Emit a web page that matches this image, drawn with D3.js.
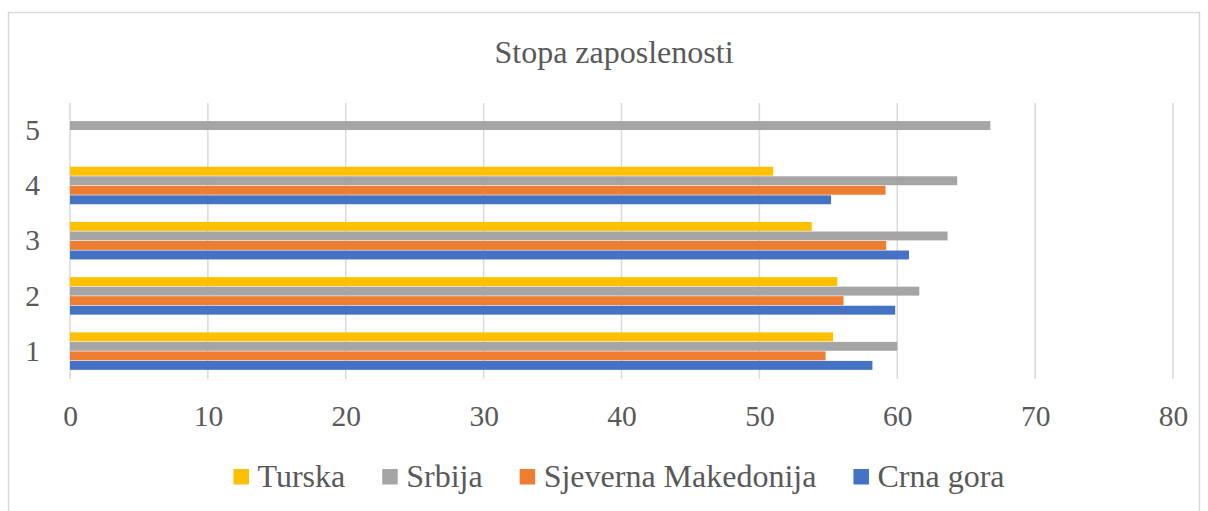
<!DOCTYPE html>
<html>
<head>
<meta charset="utf-8">
<script src="https://cdn.jsdelivr.net/npm/d3@7"></script>
<style>
  body { margin: 0; background: #fff; }
  text { font-family: "Liberation Serif", "Times New Roman", serif; fill: #595959; }
</style>
</head>
<body>
<svg id="chart" width="1208" height="511"></svg>
<script>
// chart values
var categories = ["1", "2", "3", "4", "5"];
var seriesNames = ["Turska", "Srbija", "Sjeverna Makedonija", "Crna gora"];
var turska = [55.35, 55.65, 53.8, 51.0, null];
var srbija = [60.0, 61.6, 63.65, 64.35, 66.75];
var sjevernaMakedonija = [54.8, 56.1, 59.2, 59.15, null];
var crnaGora = [58.2, 59.85, 60.85, 55.2, null];
var xTicks = [0, 10, 20, 30, 40, 50, 60, 70, 80];

var colors = ["#FFC000", "#A5A5A5", "#ED7D31", "#4472C4"];
var seriesValues = [turska, srbija, sjevernaMakedonija, crnaGora];

var svg = d3.select("#chart");

// outer frame
svg.append("rect")
  .attr("x", 8.5).attr("y", 12.5)
  .attr("width", 1191).attr("height", 520)
  .attr("fill", "none")
  .attr("stroke", "#d9d9d9")
  .attr("stroke-width", 1.5);

svg.append("text")
  .attr("x", 614).attr("y", 63)
  .attr("text-anchor", "middle")
  .attr("font-size", 32)
  .text("Stopa zaposlenosti");

var xScale = d3.scaleLinear().domain([0, 80]).range([70, 1173]);
var yScale = d3.scaleBand()
  .domain(categories.slice().reverse())
  .range([103, 379])
  .paddingInner(0.31)
  .paddingOuter(0.155);
var inner = d3.scaleBand()
  .domain(seriesNames)
  .range([0, yScale.bandwidth()]);

// vertical gridlines
svg.append("g")
  .selectAll("line")
  .data(xTicks)
  .join("line")
  .attr("x1", d => xScale(d)).attr("x2", d => xScale(d))
  .attr("y1", 103).attr("y2", 379)
  .attr("stroke", "#d9d9d9")
  .attr("stroke-width", 1.5);

// bars
var groups = svg.append("g")
  .selectAll("g")
  .data(categories)
  .join("g")
  .attr("transform", d => "translate(0," + yScale(d) + ")");

groups.selectAll("rect")
  .data((c, ci) => seriesNames.map((s, si) => ({ s: s, v: seriesValues[si][ci], color: colors[si] })).filter(d => d.v != null))
  .join("rect")
  .attr("x", xScale(0))
  .attr("y", d => inner(d.s))
  .attr("width", d => xScale(d.v) - xScale(0))
  .attr("height", inner.bandwidth() - 0.6)
  .attr("fill", d => d.color);

// x tick labels
var xAxis = d3.axisBottom(xScale).tickValues(xTicks).tickSize(0).tickPadding(0);
var gx = svg.append("g")
  .attr("transform", "translate(0,405)")
  .call(xAxis);
gx.select(".domain").remove();
gx.selectAll("text")
  .attr("font-size", 29.5)
  .attr("dy", "0.71em")
  .attr("fill", "#595959")
  .style("font-family", "Liberation Serif, serif");

// y tick labels
var yAxis = d3.axisLeft(yScale).tickSize(0).tickPadding(0);
var gy = svg.append("g")
  .attr("transform", "translate(40,0)")
  .call(yAxis);
gy.select(".domain").remove();
gy.selectAll("text")
  .attr("font-size", 29.5)
  .attr("fill", "#595959")
  .style("font-family", "Liberation Serif, serif");

// legend, laid out from text widths and centred under the plot
var legend = svg.append("g");
var items = legend.selectAll("g")
  .data(seriesNames)
  .join("g");
items.append("rect")
  .attr("x", 0).attr("y", 469)
  .attr("width", 15.5).attr("height", 15.5)
  .attr("fill", (d, i) => colors[i]);
items.append("text")
  .attr("x", 24).attr("y", 487)
  .attr("font-size", 32)
  .text(d => d);

var pos = 0;
items.each(function () {
  var w = d3.select(this).select("text").node().getComputedTextLength();
  d3.select(this).attr("transform", "translate(" + pos + ",0)");
  pos += 24 + w + 37;
});
var total = pos - 37;
legend.attr("transform", "translate(" + (619 - total / 2) + ",0)");
</script>
</body>
</html>
